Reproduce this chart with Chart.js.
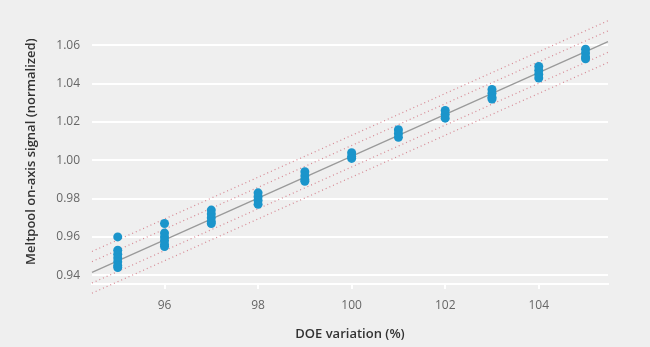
<!DOCTYPE html>
<html>
<head>
<meta charset="utf-8">
<script src="https://cdn.jsdelivr.net/npm/chart.js@4/dist/chart.umd.min.js"></script>
<style>
  html, body { margin: 0; padding: 0; background: #efefef; }
  #wrap { width: 650px; height: 347px; position: relative; }
</style>
</head>
<body>
<div id="wrap"><canvas id="c" width="650" height="347"></canvas></div>
<script>
// DOE variation (%) categories
const doeX = [95, 96, 97, 98, 99, 100, 101, 102, 103, 104, 105];
// Meltpool on-axis signal (normalized), one list per DOE level
const signal95  = [0.960, 0.953, 0.951, 0.949, 0.947, 0.945, 0.944];
const signal96  = [0.967, 0.962, 0.960, 0.958, 0.956, 0.955];
const signal97  = [0.974, 0.972, 0.970, 0.968, 0.967];
const signal98  = [0.983, 0.981, 0.979, 0.977];
const signal99  = [0.994, 0.992, 0.990, 0.989];
const signal100 = [1.004, 1.002, 1.001];
const signal101 = [1.016, 1.014, 1.012];
const signal102 = [1.026, 1.024, 1.022];
const signal103 = [1.037, 1.035, 1.033, 1.032];
const signal104 = [1.049, 1.047, 1.045, 1.043];
const signal105 = [1.058, 1.056, 1.054, 1.053];
const signalByDoe = [signal95, signal96, signal97, signal98, signal99, signal100,
                     signal101, signal102, signal103, signal104, signal105];
// Fit line and band end points
const lineX        = [94.45, 105.48];
const fitY         = [0.9415, 1.0620];
const innerUpperY  = [0.9471, 1.0676];
const innerLowerY  = [0.9359, 1.0564];
const outerUpperY  = [0.9524, 1.0729];
const outerLowerY  = [0.9306, 1.0511];
// Tick labels
const xTicks = [96, 98, 100, 102, 104];
const yTicks = [0.94, 0.96, 0.98, 1.00, 1.02, 1.04, 1.06];

const pts = [];
doeX.forEach((x, i) => signalByDoe[i].forEach(v => pts.push({x: x, y: v})));
const mk = (ys) => lineX.map((x, i) => ({x: x, y: ys[i]}));

const dotted = (ys) => ({
  type: 'line', data: mk(ys), borderColor: 'rgba(205,100,115,0.75)', borderWidth: 1.2,
  borderDash: [1, 3], pointRadius: 0, fill: false, clip: false, order: 3
});

const bgPlugin = {
  id: 'bg',
  beforeDraw(chart) {
    const ctx = chart.ctx;
    ctx.save();
    ctx.fillStyle = '#efefef';
    ctx.fillRect(0, 0, chart.width, chart.height);
    ctx.restore();
  }
};

new Chart(document.getElementById('c'), {
  type: 'scatter',
  data: {
    datasets: [
      { type: 'scatter', data: pts, backgroundColor: '#1b95cb', borderColor: '#1b95cb',
        pointRadius: 4.5, pointHoverRadius: 4.5, borderWidth: 0, order: 1 },
      { type: 'line', data: mk(fitY), borderColor: '#9a9a9a', borderWidth: 1.3,
        pointRadius: 0, fill: false, clip: false, order: 2 },
      dotted(innerUpperY), dotted(innerLowerY), dotted(outerUpperY), dotted(outerLowerY)
    ]
  },
  options: {
    responsive: false,
    animation: false,
    events: [],
    layout: { padding: { left: 0, right: 42, top: 12, bottom: 0 } },
    plugins: { legend: { display: false }, tooltip: { enabled: false } },
    scales: {
      x: {
        type: 'linear', min: 94.45, max: 105.48,
        afterBuildTicks: (s) => { s.ticks = xTicks.map(v => ({value: v})); },
        afterFit: (s) => { s.height = 63; },
        grid: { drawOnChartArea: false, drawTicks: true, tickLength: 5, color: '#ffffff', lineWidth: 2 },
        border: { display: true, color: '#ffffff', width: 2 },
        ticks: { color: '#666666', font: { family: 'Open Sans', size: 12 }, padding: 9,
                 maxRotation: 0, callback: (v) => String(v) },
        title: { display: true, text: 'DOE variation (%)', color: '#333333',
                 font: { family: 'Open Sans', size: 13, weight: '600' }, padding: { top: 0, bottom: 5 } }
      },
      y: {
        type: 'linear', min: 0.9354, max: 1.0737,
        afterBuildTicks: (s) => { s.ticks = yTicks.map(v => ({value: v})); },
        afterFit: (s) => { s.width = 92; },
        grid: { drawTicks: false, color: '#ffffff', lineWidth: 2 },
        border: { display: false },
        ticks: { color: '#666666', font: { family: 'Open Sans', size: 12 }, padding: 12,
                 callback: (v) => v.toFixed(2) },
        title: { display: true, text: 'Meltpool on-axis signal (normalized)', color: '#333333',
                 font: { family: 'Open Sans', size: 13, weight: '600' }, padding: { top: 23, bottom: 0 } }
      }
    }
  },
  plugins: [bgPlugin]
});
</script>
</body>
</html>
